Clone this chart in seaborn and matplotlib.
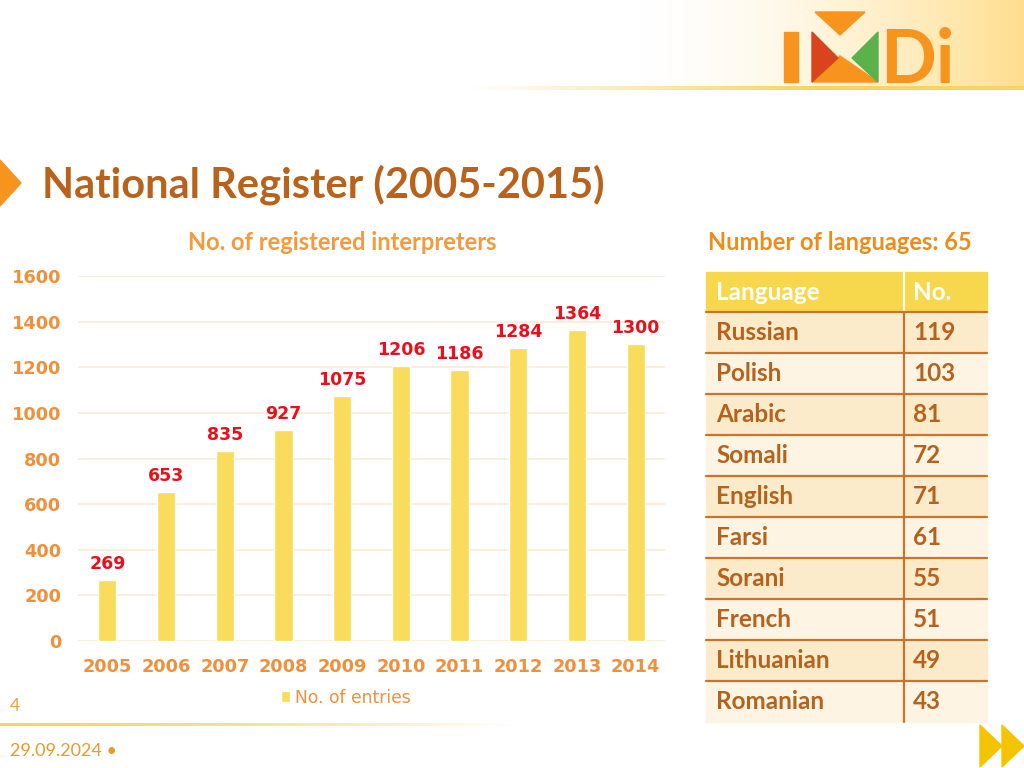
import numpy as np
import pandas as pd
import matplotlib
matplotlib.use("Agg")
import matplotlib.pyplot as plt
from matplotlib.patches import Polygon, Rectangle
import seaborn as sns

# ---------------- data ----------------
years = ["2005", "2006", "2007", "2008", "2009", "2010", "2011", "2012", "2013", "2014"]
entries = [269, 653, 835, 927, 1075, 1206, 1186, 1284, 1364, 1300]
languages = ["Russian", "Polish", "Arabic", "Somali", "English", "Farsi",
             "Sorani", "French", "Lithuanian", "Romanian"]
lang_counts = [119, 103, 81, 72, 71, 61, 55, 51, 49, 43]
y_ticks = [0, 200, 400, 600, 800, 1000, 1200, 1400, 1600]

title = "National Register (2005-2015)"
chart_title = "No. of registered interpreters"
series_name = "No. of entries"
table_title = "Number of languages: 65"
table_header = ["Language", "No."]
page_no = "4"
date_txt = "29.09.2024 •"

# ---------------- colours ----------------
BAR = "#F9DC5C"
GRID = "#FBEBD5"
TICK = "#F0903A"
VAL = "#E8101A"
TITLE_C = "#B8621B"
SUB_C = "#F29A3C"
TAB_TITLE = "#EE8C1A"
HEAD_BG = "#F7D84C"
ROW_A = "#FCEBCB"
ROW_B = "#FDF4E4"
TAB_TXT = "#B5621C"
TAB_LINE = "#C8742C"
ORANGE = "#F7941D"

sns.set_theme(style="white")
plt.rcParams["font.family"] = ["DejaVu Sans"]

W, H = 1024, 768
fig = plt.figure(figsize=(W / 100, H / 100), dpi=100)
fig.patch.set_facecolor("white")

# decoration layer in pixel coordinates
deco = fig.add_axes([0, 0, 1, 1], zorder=0)
deco.set_xlim(0, W)
deco.set_ylim(H, 0)
deco.axis("off")

# --- top-right gradient background and line ---
grad = np.linspace(0, 1, 256)
bg = np.ones((1, 256, 4))
bg[..., 1] = 1 - 0.13 * grad ** 1.6
bg[..., 2] = 1 - 0.44 * grad ** 1.6
deco.imshow(bg, extent=(640, 1024, 86, 0), aspect="auto", zorder=0)
line = np.zeros((1, 256, 4))
line[..., 0] = 0.97
line[..., 1] = 0.83
line[..., 2] = 0.38
line[..., 3] = np.clip(grad * 1.6, 0, 1)
deco.imshow(line, extent=(470, 1024, 90, 86), aspect="auto", zorder=1)

# --- logo IMDi ---
deco.add_patch(Rectangle((784, 32), 14, 50, color=ORANGE, zorder=2))
deco.add_patch(Polygon([(815, 12), (865, 12), (840, 35)], color=ORANGE, zorder=2))
deco.add_patch(Polygon([(812, 82), (840, 56), (878, 82)], color=ORANGE, zorder=2))
deco.add_patch(Polygon([(812, 32), (838, 58), (812, 82)], color="#D9441F", zorder=3))
deco.add_patch(Polygon([(878, 32), (852, 58), (878, 82)], color="#5BB14A", zorder=3))
deco.text(880, 83, "Di", fontsize=53, fontweight="bold", color=ORANGE,
          family="Lato", ha="left", va="baseline", zorder=3)

# --- left arrow ---
deco.add_patch(Polygon([(0, 160), (21, 183), (0, 206)], color=ORANGE, zorder=2))

# --- title texts ---
deco.text(42, 185, title, fontsize=30, fontweight="bold", color=TITLE_C,
          family="Lato", ha="left", va="center")
deco.text(342, 242, chart_title, fontsize=17, fontweight="bold", color=SUB_C,
          family="Lato", ha="center", va="center")
deco.text(708, 243, table_title, fontsize=17, fontweight="bold", color=TAB_TITLE,
          family="Lato", ha="left", va="center")

# --- table ---
tx0, tx1, tdiv = 706, 987, 904
ty0, head_h, row_h = 272, 40, 41
deco.add_patch(Rectangle((tx0, ty0), tx1 - tx0, head_h, color=HEAD_BG, zorder=1))
deco.plot([tdiv, tdiv], [ty0, ty0 + head_h], color="white", lw=1.5, zorder=2)
deco.text(716, ty0 + head_h / 2, table_header[0], fontsize=17.5, fontweight="bold",
          color="white", family="Lato", ha="left", va="center", zorder=3)
deco.text(913, ty0 + head_h / 2, table_header[1], fontsize=17.5, fontweight="bold",
          color="white", family="Lato", ha="left", va="center", zorder=3)
for i, (lang, n) in enumerate(zip(languages, lang_counts)):
    y = ty0 + head_h + i * row_h
    deco.add_patch(Rectangle((tx0, y), tx1 - tx0, row_h,
                             color=ROW_A if i % 2 == 0 else ROW_B, zorder=1))
    deco.plot([tx0, tx1], [y, y], color=TAB_LINE, lw=1.6, zorder=2)
    deco.text(716, y + row_h / 2, lang, fontsize=17.5, fontweight="bold",
              color=TAB_TXT, family="Lato", ha="left", va="center", zorder=3)
    deco.text(913, y + row_h / 2, str(n), fontsize=17.5, fontweight="bold",
              color=TAB_TXT, family="Lato", ha="left", va="center", zorder=3)
deco.plot([tdiv, tdiv], [ty0 + head_h, ty0 + head_h + len(languages) * row_h],
          color=TAB_LINE, lw=1.6, zorder=2)

# --- footer ---
deco.text(10, 706, page_no, fontsize=12.5, color="#E8A23A", family="Lato",
          ha="left", va="center")
fline = np.zeros((1, 256, 4))
fline[..., 0] = 0.97
fline[..., 1] = 0.83
fline[..., 2] = 0.38
fline[..., 3] = np.clip(1.0 - grad ** 1.5, 0, 1)
deco.imshow(fline, extent=(0, 520, 726, 723), aspect="auto", zorder=1)
deco.text(10, 751, date_txt, fontsize=13, color="#E89A2A", family="Lato",
          ha="left", va="center")
deco.add_patch(Polygon([(980, 725), (1002, 746), (980, 767)], color="#F5C400", zorder=2))
deco.add_patch(Polygon([(1002, 725), (1024, 746), (1002, 767)], color="#F5C400", zorder=2))

# ---------------- bar chart ----------------
ax_l, ax_r, ax_b, ax_t = 78, 665, 641, 276
ax = fig.add_axes([ax_l / W, (H - ax_b) / H, (ax_r - ax_l) / W, (ax_b - ax_t) / H], zorder=2)
ax.patch.set_alpha(0)
df = pd.DataFrame({"year": years, "entries": entries})
sns.barplot(data=df, x="year", y="entries", color=BAR, width=0.31, saturation=1,
            label=series_name, ax=ax, zorder=3)
ax.set_xlim(-0.5, len(years) - 0.5)
ax.set_ylim(0, 1600)
ax.set_yticks(y_ticks)
ax.set_yticklabels([str(v) for v in y_ticks])
ax.yaxis.grid(True, color=GRID, lw=1.2, zorder=0)
ax.set_axisbelow(True)
for s in ax.spines.values():
    s.set_visible(False)
ax.set_xlabel("")
ax.set_ylabel("")
ax.tick_params(axis="both", length=0)
ax.tick_params(axis="y", pad=12)
ax.tick_params(axis="x", pad=12)
for lab in ax.get_yticklabels() + ax.get_xticklabels():
    lab.set_color(TICK)
    lab.set_fontweight("bold")
    lab.set_fontsize(12.8)
ax.bar_label(ax.containers[0], labels=[str(v) for v in entries], padding=5,
             color=VAL, fontsize=12.5, fontweight="bold")
leg = ax.legend(loc="center", bbox_to_anchor=(0.456, -0.155), frameon=False,
                handlelength=0.55, handleheight=0.55, handletextpad=0.3,
                fontsize=12.3)
for t in leg.get_texts():
    t.set_color(TICK)

fig.savefig("out.png", dpi=100, facecolor="white")
